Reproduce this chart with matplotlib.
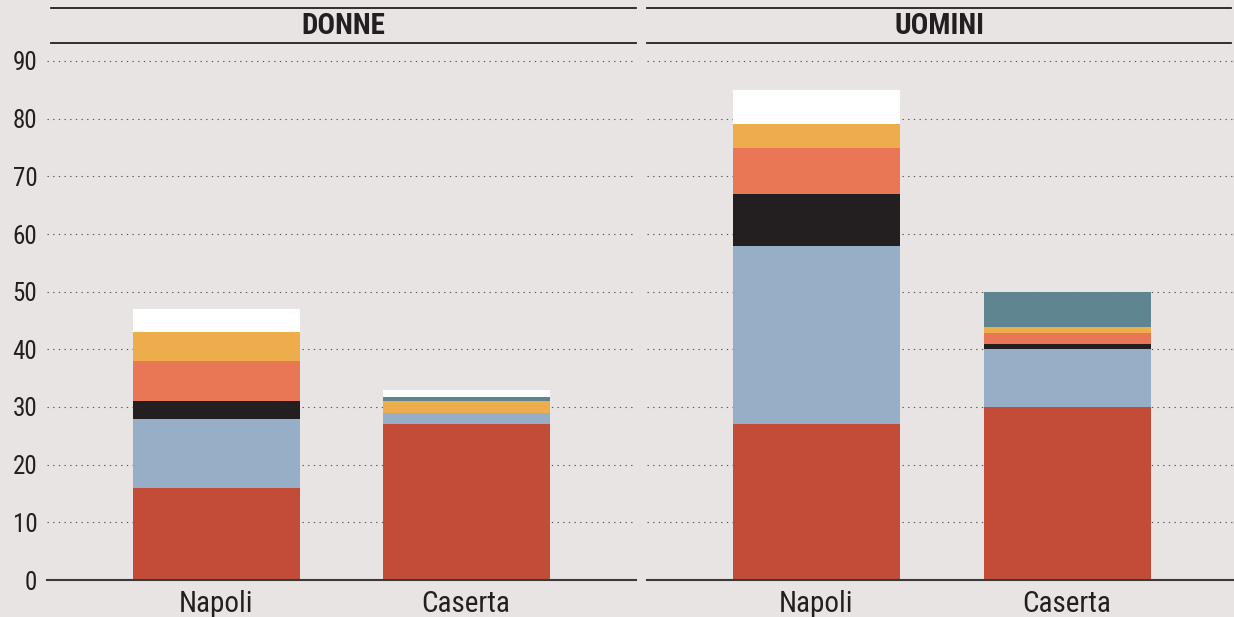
import matplotlib
matplotlib.use("Agg")
import matplotlib.pyplot as plt
from matplotlib.lines import Line2D
import numpy as np

# ── Dati ──────────────────────────────────────────────────────────────────────
CITTA = ["Napoli", "Caserta"]
PANNELLI = ["DONNE", "UOMINI"]

# segmenti dal basso verso l'alto
donne_rosso = [16, 27]
donne_azzurro = [12, 1.9]
donne_nero = [3, 0]
donne_salmone = [7, 0]
donne_giallo = [5, 2.1]
donne_petrolio = [0, 0.8]
donne_bianco = [4, 1.2]

uomini_rosso = [27, 30]
uomini_azzurro = [31, 10]
uomini_nero = [9, 1]
uomini_salmone = [8, 1.9]
uomini_giallo = [4, 0.9]
uomini_petrolio = [0, 6.2]
uomini_bianco = [6, 0]

COLORI = ["#C24C38", "#96AFC7", "#231F20", "#E97756", "#EDAD4D", "#5F8590", "#FFFFFF"]
SFONDO = "#E9E4E4"
TESTO = "#231F20"

plt.rcParams["font.family"] = ["Roboto Condensed", "Archivo Narrow",
                               "DejaVu Sans Condensed", "DejaVu Sans"]

serie = {
    "DONNE": [donne_rosso, donne_azzurro, donne_nero, donne_salmone,
              donne_giallo, donne_petrolio, donne_bianco],
    "UOMINI": [uomini_rosso, uomini_azzurro, uomini_nero, uomini_salmone,
               uomini_giallo, uomini_petrolio, uomini_bianco],
}

W, H = 1234, 617
fig = plt.figure(figsize=(W / 100, H / 100), dpi=100)
fig.patch.set_facecolor(SFONDO)

Y0, YTOP = 580, 43            # pixel della linea zero e del bordo superiore
SCALA = (580 - 61) / 90       # pixel per unità
# (sinistra px, destra px, px fra le barre, sinistra linea titolo, destra linea titolo)
geometria = [(47, 636, 250, 51, 636), (647, 1234, 251, 647, 1231)]
GRIGLIA = dict(color="#555555", linestyle=(0, (1.2, 3.9)), linewidth=0.8)

for k, (nome, (xl, xr, passo, tl, tr)) in enumerate(zip(PANNELLI, geometria)):
    ax = fig.add_axes([xl / W, (H - Y0) / H, (xr - xl) / W, (Y0 - YTOP) / H])
    ax.set_facecolor(SFONDO)
    x = np.arange(len(CITTA))
    base = np.zeros(len(CITTA))
    for vals, col in zip(serie[nome], COLORI):
        ax.bar(x, vals, bottom=base, width=167 / passo, color=col, zorder=3,
               linewidth=0)
        base += np.array(vals)

    sx = 169 / passo
    ax.set_xlim(-sx, -sx + (xr - xl) / passo)
    ax.set_ylim(0, (Y0 - YTOP) / SCALA)
    ax.set_yticks(range(0, 100, 10))
    for yv in range(10, 100, 10):
        ax.axhline(yv, zorder=0, **GRIGLIA)
    ax.axhline(0, color="#3A3A3A", linewidth=1.5, zorder=4, clip_on=False)
    for s in ax.spines.values():
        s.set_visible(False)
    ax.set_xticks(x)
    ax.set_xticklabels(CITTA, fontsize=21, color=TESTO)
    ax.tick_params(axis="x", length=0, pad=7.5)
    ax.tick_params(axis="y", length=0, pad=7, labelsize=18, labelcolor=TESTO)
    if k == 1:
        ax.set_yticklabels([])

    # banda del titolo
    for yy in (8.3, 43.3):
        fig.add_artist(Line2D([tl / W, tr / W], [1 - yy / H, 1 - yy / H],
                              color=TESTO, linewidth=1.3))
    fig.text((tl + tr) / 2 / W, 1 - 26 / H, nome, ha="center", va="center",
             fontsize=21, fontweight="bold", color=TESTO)

fig.savefig("out.png", dpi=100, facecolor=SFONDO)
